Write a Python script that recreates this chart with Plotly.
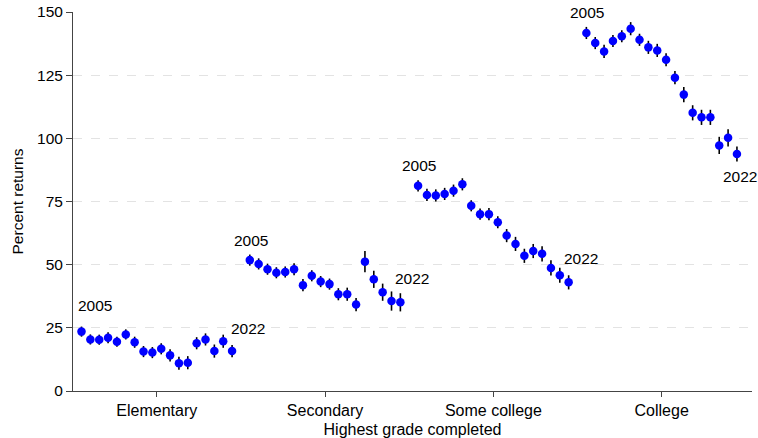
import plotly.graph_objects as go

# Education groups and survey years
categories = ["Elementary", "Secondary", "Some college", "College"]
years = list(range(2005, 2023))

# Estimated percent returns by year, one list per education group
elementary = [23.5, 20.4, 20.3, 21.1, 19.5, 22.4, 19.3, 15.6, 15.2, 16.7,
              14.1, 11.0, 11.2, 18.9, 20.4, 15.8, 19.7, 15.8]
secondary = [51.8, 50.3, 48.2, 46.8, 47.1, 48.2, 41.9, 45.6, 43.3, 42.3,
             38.3, 38.3, 34.2, 51.2, 44.2, 39.1, 35.6, 35.1]
some_college = [81.2, 77.6, 77.4, 78.0, 79.3, 81.8, 73.3, 70.0, 70.0, 66.8,
                61.5, 58.2, 53.5, 55.4, 54.3, 48.7, 45.8, 43.0]
college = [141.7, 137.7, 134.4, 138.5, 140.4, 143.4, 139.0, 136.0, 134.8, 131.1,
           124.0, 117.3, 110.1, 108.3, 108.3, 97.2, 100.2, 93.8]

# Half-widths of the confidence intervals
elementary_ci = [2.0, 2.0, 2.0, 2.2, 2.0, 2.0, 2.2, 2.2, 2.2, 2.2,
                 2.4, 2.6, 2.6, 2.4, 2.4, 2.6, 2.6, 2.4]
secondary_ci = [2.2, 2.2, 2.2, 2.2, 2.2, 2.4, 2.4, 2.2, 2.2, 2.2,
                2.4, 2.6, 2.6, 4.2, 3.4, 3.4, 3.8, 3.6]
some_college_ci = [2.2, 2.4, 2.4, 2.4, 2.4, 2.4, 2.2, 2.2, 2.4, 2.4,
                   2.6, 2.8, 2.8, 2.8, 3.0, 3.0, 3.0, 2.8]
college_ci = [2.4, 2.4, 2.6, 2.4, 2.4, 2.6, 2.4, 2.6, 2.6, 2.6,
              2.6, 3.0, 3.0, 3.0, 3.0, 3.4, 3.4, 3.0]

y_ticks = [0, 25, 50, 75, 100, 125, 150]

series = [elementary, secondary, some_college, college]
cis = [elementary_ci, secondary_ci, some_college_ci, college_ci]

FONT = "Liberation Sans, Arial, sans-serif"
n = len(years)
slot = n + 1  # one empty slot between groups

fig = go.Figure()
annotations = []
for g, (vals, ci) in enumerate(zip(series, cis)):
    xs = [g * slot + i for i in range(n)]
    fig.add_trace(go.Scatter(
        x=xs, y=vals, mode="markers",
        marker=dict(color="#0000ff", size=8.5, line=dict(width=0)),
        error_y=dict(type="data", array=ci, symmetric=True,
                     color="black", thickness=1.6, width=0),
        customdata=years,
        hovertemplate=categories[g] + " %{customdata}: %{y:.1f}<extra></extra>",
        showlegend=False,
    ))
    # label first and last year of each group
    first_shift = (13, 26) if g == 0 else (1, 20)
    annotations.append(dict(
        x=xs[0], y=vals[0], text=str(years[0]), showarrow=False,
        xshift=first_shift[0], yshift=first_shift[1],
        font=dict(family=FONT, size=15.5, color="black"),
    ))
    if g == len(series) - 1:
        last_shift = (3, -22)
    elif g == 0:
        last_shift = (16, 23)
    else:
        last_shift = (12, 24)
    annotations.append(dict(
        x=xs[-1], y=vals[-1], text=str(years[-1]), showarrow=False,
        xshift=last_shift[0], yshift=last_shift[1],
        font=dict(family=FONT, size=15.5, color="black"),
    ))

centers = [g * slot + (n - 1) / 2 for g in range(len(categories))]

fig.update_layout(
    width=758, height=438,
    margin=dict(l=73, r=6, t=12, b=47),
    paper_bgcolor="white", plot_bgcolor="white",
    font=dict(family=FONT, size=15, color="black"),
    annotations=annotations,
    xaxis=dict(
        range=[-0.96, 75.7],
        tickvals=centers, ticktext=categories,
        showgrid=False, zeroline=False, automargin=False,
        showline=True, linecolor="#444", linewidth=1,
        ticks="outside", ticklen=5, tickcolor="#444",
        tickfont=dict(size=16),
        title=dict(text="Highest grade completed", font=dict(size=16), standoff=6),
    ),
    yaxis=dict(
        range=[0, 150],
        tickvals=y_ticks,
        showgrid=True, gridcolor="#e3e3e3", gridwidth=1, griddash="dash",
        zeroline=False, automargin=False,
        showline=True, linecolor="#444", linewidth=1,
        ticks="outside", ticklen=6, tickcolor="#444",
        tickfont=dict(size=15.5),
        title=dict(text="Percent returns", font=dict(size=15.5), standoff=9),
    ),
)

fig.write_html("out.html")
